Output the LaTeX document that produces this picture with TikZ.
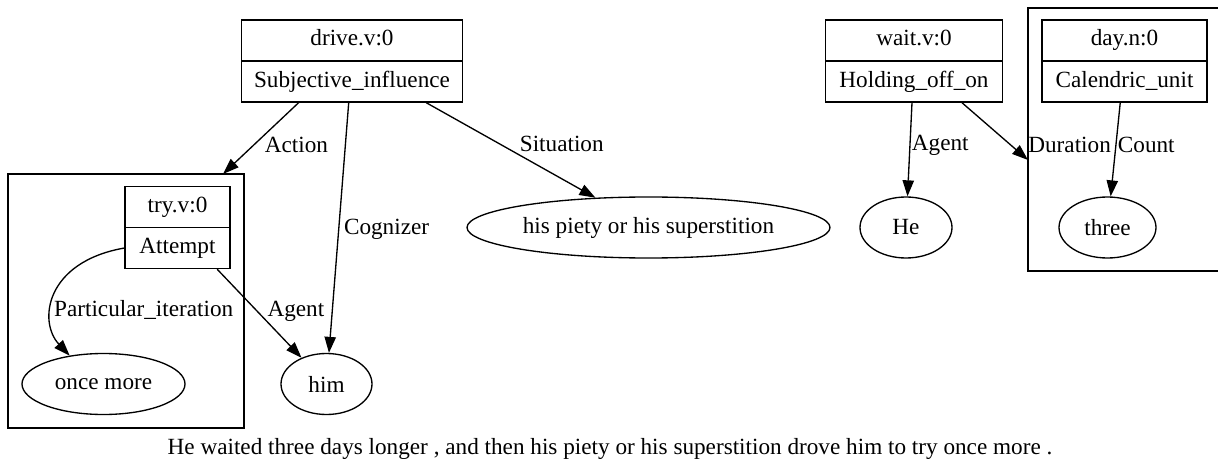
\documentclass[tikz,border=0pt]{standalone}
\usepackage{fontspec}
\setmainfont{Liberation Serif}
\usepackage{tikz}
\usetikzlibrary{positioning,shapes,shapes.multipart,shapes.geometric,arrows.meta,calc}
\tikzset{>={Triangle[length=12pt,width=8.5pt]}}
\tikzstyle{frame}=[rectangle split,rectangle split parts=2,draw,line width=1pt,inner ysep=4.6pt,inner xsep=2pt]
\tikzstyle{word}=[ellipse,draw,line width=1pt,minimum height=45.75pt,inner sep=0pt]

\begin{document}
\begin{tikzpicture}[x=0.75pt,y=-0.75pt,
      font=\fontsize{17.4}{20.6}\selectfont,
      % define styles
      rel/.style={->,line width=1pt},
      lab/.style={inner sep=1pt},
      group/.style={draw,line width=1pt,inner sep=0pt}
  ]
  \useasboundingbox (0,0) rectangle (1218,474);
  % frames
  \node[frame,minimum width=165.75pt] (drive) at (352,61)
      {\strut drive.v:0\nodepart{two}\strut Subjective\_influence};
  \node[frame,minimum width=78.75pt] (try) at (177.5,227.5)
      {\strut try.v:0\nodepart{two}\strut Attempt};
  \node[frame,minimum width=132.75pt] (wait) at (914,61)
      {\strut wait.v:0\nodepart{two}\strut Holding\_off\_on};
  \node[frame,minimum width=123.75pt] (day) at (1124.5,61)
      {\strut day.n:0\nodepart{two}\strut Calendric\_unit};
  % words
  \node[word,minimum width=122.25pt] (once) at (103.5,384) {once more};
  \node[word,minimum width=68.25pt] (him) at (326.5,384) {him};
  \node[word,minimum width=272.25pt] (piety) at (648.5,227.5) {his piety or his superstition};
  \node[word,minimum width=69pt] (he) at (906,227.5) {He};
  \node[word,minimum width=72.75pt] (three) at (1107.5,227.5) {three};
  % groups
  \node[group,minimum width=177pt,minimum height=190.5pt] (grptry) at (126,301) {};
  \draw[line width=1pt] (1220,8) -- (1028,8) -- (1028,271) -- (1220,271);
  \coordinate (acttip) at (223,174);
  \coordinate (durtip) at (1028,160);
  % relations of drive.v:0
  \draw[rel] (drive.218) -- node[lab,pos=0.595,right=7pt] {Action} (acttip);
  \draw[rel] (drive) -- node[lab,pos=0.506,right=2.5pt] {Cognizer} (him);
  \draw[rel] (drive) -- node[lab,pos=0.439,right=13pt] {Situation} (piety);
  % relations of try.v:0
  \draw[rel] (try.two west) .. controls (45,262) and (38,322) .. node[lab,pos=0.62,anchor=west] {Particular\_iteration} (once.140);
  \draw[rel] (try) -- node[lab,pos=0.478,right=6pt] {Agent} (him);
  % relations of wait.v:0 and day.n:0
  \draw[rel] (wait) -- node[lab,pos=0.45,right=0pt] {Agent} (he);
  \draw[rel] (wait.-41.6) -- node[lab,pos=0.733,right=12pt] {Duration} (durtip);
  \draw[rel] (day) -- node[lab,pos=0.45,right=0pt] {Count} (three);
  % sentence
  \node (sent) at (610,449) {He waited three days longer , and then his piety or his superstition drove him to try once more .};
\end{tikzpicture}
\end{document}
